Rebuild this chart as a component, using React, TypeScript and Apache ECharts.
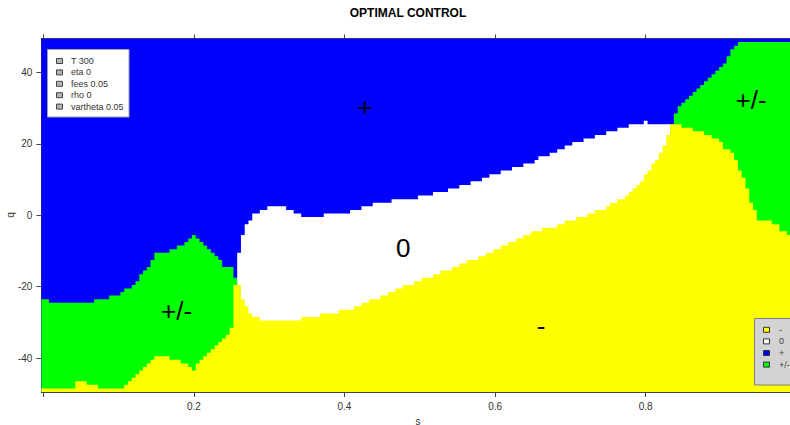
import React, { useEffect, useRef } from 'react';
import * as echarts from 'echarts';

// grid of the level plot: s in columns of 0.005, q in rows of 1
const STEP = 0.005;
const LAST_COL = 199;
const Q_MIN = -49.5;
const Q_MAX = 49.5;

const xTicks = [0, 0.2, 0.4, 0.6, 0.8];
const xTickLabels = [0.2, 0.4, 0.6, 0.8];
const yTicks = [-40, -20, 0, 20, 40];

// upper q edge of the "-" (yellow) region, as runs: [s where run starts, q edge]
const yellowTopRuns: [number, number][] = [
  [0, -48.5], [0.045, -46.5], [0.06, -47.5], [0.075, -48.5], [0.11, -47.5], [0.115, -46.5],
  [0.12, -45.5], [0.125, -44.5], [0.13, -43.5], [0.135, -42.5], [0.14, -41.5], [0.145, -40.5],
  [0.15, -39.5], [0.17, -40.5], [0.185, -41.5], [0.195, -42.5], [0.2, -43.5], [0.205, -41.5],
  [0.21, -40.5], [0.215, -39.5], [0.22, -38.5], [0.225, -37.5], [0.23, -36.5], [0.235, -35.5],
  [0.24, -34.5], [0.245, -33.5], [0.25, -31.5], [0.255, -19.5], [0.265, -23.5], [0.27, -25.5],
  [0.275, -27.5], [0.28, -28.5], [0.29, -29.5], [0.345, -28.5], [0.37, -27.5], [0.395, -26.5],
  [0.415, -25.5], [0.425, -24.5], [0.435, -23.5], [0.45, -22.5], [0.46, -21.5], [0.47, -20.5],
  [0.48, -19.5], [0.495, -18.5], [0.505, -17.5], [0.52, -16.5], [0.53, -15.5], [0.545, -14.5],
  [0.555, -13.5], [0.565, -12.5], [0.58, -11.5], [0.59, -10.5], [0.6, -9.5], [0.61, -8.5],
  [0.62, -7.5], [0.63, -6.5], [0.64, -5.5], [0.65, -4.5], [0.665, -3.5], [0.685, -2.5],
  [0.695, -1.5], [0.71, -0.5], [0.725, 0.5], [0.735, 1.5], [0.75, 2.5], [0.755, 3.5],
  [0.765, 4.5], [0.775, 5.5], [0.78, 6.5], [0.785, 7.5], [0.79, 8.5], [0.795, 9.5],
  [0.8, 11.5], [0.805, 12.5], [0.81, 14.5], [0.815, 15.5], [0.82, 17.5], [0.825, 19.5],
  [0.83, 22.5], [0.835, 25.5], [0.85, 24.5], [0.865, 23.5], [0.88, 22.5], [0.89, 21.5],
  [0.9, 20.5], [0.905, 18.5], [0.915, 17.5], [0.92, 15.5], [0.925, 12.5], [0.93, 10.5],
  [0.935, 7.5], [0.94, 3.5], [0.945, 1.5], [0.95, -1.5], [0.97, -2.5], [0.98, -4.5], [0.99, -5.5],
];

// upper q edge of the middle region ("0" or "+/-"), above it is "+" (blue)
const midTopRuns: [number, number][] = [
  [0, -23.5], [0.01, -24.5], [0.07, -23.5], [0.09, -22.5], [0.105, -21.5], [0.11, -20.5],
  [0.12, -19.5], [0.125, -18.5], [0.13, -16.5], [0.135, -15.5], [0.14, -14.5], [0.145, -12.5],
  [0.15, -10.5], [0.17, -9.5], [0.18, -8.5], [0.19, -7.5], [0.195, -6.5], [0.2, -5.5],
  [0.205, -6.5], [0.21, -7.5], [0.215, -8.5], [0.22, -9.5], [0.225, -10.5], [0.23, -11.5],
  [0.235, -12.5], [0.24, -14.5], [0.255, -17.5], [0.26, -10.5], [0.265, -5.5], [0.27, -2.5],
  [0.275, -1.5], [0.28, 0.5], [0.29, 1.5], [0.3, 2.5], [0.325, 1.5], [0.335, 0.5],
  [0.345, -0.5], [0.375, 0.5], [0.41, 1.5], [0.425, 2.5], [0.44, 3.5], [0.465, 4.5],
  [0.5, 5.5], [0.52, 6.5], [0.54, 7.5], [0.555, 8.5], [0.57, 9.5], [0.585, 10.5],
  [0.595, 11.5], [0.61, 12.5], [0.625, 13.5], [0.64, 14.5], [0.655, 15.5], [0.66, 16.5],
  [0.675, 17.5], [0.685, 18.5], [0.695, 19.5], [0.705, 20.5], [0.72, 21.5], [0.735, 22.5],
  [0.75, 23.5], [0.765, 24.5], [0.78, 25.5], [0.8, 26.5], [0.805, 25.5], [0.84, 28.5],
  [0.845, 30.5], [0.85, 31.5], [0.855, 32.5], [0.86, 33.5], [0.865, 34.5], [0.87, 35.5],
  [0.875, 36.5], [0.88, 37.5], [0.885, 38.5], [0.89, 39.5], [0.895, 40.5], [0.9, 41.5],
  [0.905, 42.5], [0.91, 44.5], [0.915, 46.5], [0.92, 47.5], [0.925, 48.5],
];

// which control value fills the middle region
const midKindRuns: [number, string][] = [[0, '+/-'], [0.26, '0'], [0.835, '+/-']];

const regionNames = ['-', '0', '+', '+/-'];
const regionColors: Record<string, string> = {
  '-': '#ffff00',
  '0': '#ffffff',
  '+': '#0000ff',
  '+/-': '#00ff00',
};
const paramLegend = ['T 300', 'eta 0', 'fees 0.05', 'rho 0', 'vartheta 0.05'];
const regionLabels = [
  { name: '+', value: [0.427, 30.2] },
  { name: '0', value: [0.478, -9.3] },
  { name: '-', value: [0.661, -31.0] },
  { name: '+/-', value: [0.177, -26.8] },
  { name: '+/-', value: [0.94, 32.4] },
];

const FONT = '"Liberation Sans", Arial, Helvetica, sans-serif';

function runValue<T>(runs: [number, T][], k: number): T {
  const s = k * STEP + 1e-9;
  let v = runs[0][1];
  for (const [st, val] of runs) {
    if (st <= s) v = val;
    else break;
  }
  return v;
}

const yellowTop = (k: number) => runValue(yellowTopRuns, k);
const midTop = (k: number) => runValue(midTopRuns, k);
const topEdge = (_k: number) => Q_MAX;

function kindSegments(kind: string): number[][] {
  const out: number[][] = [];
  midKindRuns.forEach(([st, kd], i) => {
    if (kd !== kind) return;
    const end = i + 1 < midKindRuns.length ? midKindRuns[i + 1][0] - STEP : LAST_COL * STEP;
    out.push([st, end]);
  });
  return out;
}

const makeRender = (upper: (k: number) => number, color: string) => (params: any, api: any) => {
  const k0 = Math.round(api.value(0) / STEP);
  const k1 = Math.round(api.value(1) / STEP);
  const pts: number[][] = [];
  pts.push(api.coord([k0 * STEP - STEP / 2, Q_MIN]));
  pts.push(api.coord([k1 * STEP + STEP / 2, Q_MIN]));
  for (let k = k1; k >= k0; k--) {
    const q = upper(k);
    pts.push(api.coord([k * STEP + STEP / 2, q]));
    pts.push(api.coord([k * STEP - STEP / 2, q]));
  }
  return { type: 'polygon', shape: { points: pts }, style: { fill: color } };
};

export default function App() {
  const ref = useRef<HTMLDivElement>(null);

  useEffect(() => {
    document.body.style.margin = '0';
    if (!ref.current) return;
    const chart = echarts.init(ref.current, null, { renderer: 'svg' });

    const full = [[0, LAST_COL * STEP]];
    const axisColor = '#444';

    const graphics: any[] = [];
    graphics.push({
      type: 'text',
      x: 408,
      y: 12.5,
      z: 100,
      style: {
        text: 'OPTIMAL CONTROL',
        fill: '#000',
        font: `bold 12px ${FONT}`,
        textAlign: 'center',
        textVerticalAlign: 'middle',
      },
    });
    graphics.push({
      type: 'text',
      x: 10,
      y: 215,
      rotation: Math.PI / 2,
      z: 100,
      style: {
        text: 'q',
        fill: '#333',
        font: `10px ${FONT}`,
        textAlign: 'center',
        textVerticalAlign: 'middle',
      },
    });
    graphics.push({
      type: 'rect',
      z: 100,
      shape: { x: 47.5, y: 49.5, width: 81.5, height: 67.5 },
      style: { fill: '#ffffff', stroke: '#a0a0a0', lineWidth: 1 },
    });
    paramLegend.forEach((t, i) => {
      const cy = 61 + i * 11.4;
      graphics.push({
        type: 'rect',
        z: 101,
        shape: { x: 56.5, y: cy - 2.5, width: 6, height: 5 },
        style: { fill: '#b4b4b4', stroke: '#444', lineWidth: 1 },
      });
      graphics.push({
        type: 'text',
        z: 101,
        x: 71,
        y: cy,
        style: { text: t, fill: '#333', font: `9px ${FONT}`, textVerticalAlign: 'middle' },
      });
    });
    graphics.push({
      type: 'rect',
      z: 100,
      shape: { x: 754.5, y: 318.5, width: 50, height: 66.5 },
      style: { fill: '#d3d3d3', stroke: '#808080', lineWidth: 1 },
    });
    regionNames.forEach((t, i) => {
      const cy = 329.8 + i * 11.6;
      graphics.push({
        type: 'rect',
        z: 101,
        shape: { x: 763.5, y: cy - 2.5, width: 6, height: 5 },
        style: { fill: regionColors[t], stroke: '#333', lineWidth: 1 },
      });
      graphics.push({
        type: 'text',
        z: 101,
        x: 779,
        y: cy,
        style: { text: t, fill: '#444', font: `9px ${FONT}`, textVerticalAlign: 'middle' },
      });
    });

    const option: any = {
      animation: false,
      textStyle: { fontFamily: FONT },
      grid: {
        left: 41.4,
        top: 38.5,
        width: 753,
        height: 353.5,
        containLabel: false,
        outerBoundsMode: 'none',
      },
      xAxis: [
        {
          type: 'value',
          min: -STEP / 2,
          max: LAST_COL * STEP + STEP / 2,
          position: 'bottom',
          name: 's',
          nameLocation: 'middle',
          nameGap: 24,
          nameTextStyle: { fontSize: 10, color: '#333', fontFamily: FONT },
          axisLine: { show: true, onZero: false, lineStyle: { color: axisColor, width: 1 } },
          axisTick: { show: true, length: 5, customValues: xTicks, lineStyle: { color: axisColor } },
          axisLabel: { show: true, customValues: xTickLabels, fontSize: 10, color: '#333', margin: 9, fontFamily: FONT },
          splitLine: { show: false },
        },
        {
          type: 'value',
          min: -STEP / 2,
          max: LAST_COL * STEP + STEP / 2,
          position: 'top',
          axisLine: { show: true, onZero: false, lineStyle: { color: axisColor, width: 1 } },
          axisTick: { show: true, length: 4, customValues: xTicks, lineStyle: { color: axisColor } },
          axisLabel: { show: false },
          splitLine: { show: false },
        },
      ],
      yAxis: [
        {
          type: 'value',
          min: Q_MIN,
          max: Q_MAX,
          position: 'left',
          axisLine: { show: true, onZero: false, lineStyle: { color: axisColor, width: 1 } },
          axisTick: { show: true, length: 5, customValues: yTicks, lineStyle: { color: axisColor } },
          axisLabel: { show: true, customValues: yTicks, fontSize: 10, color: '#333', margin: 9, fontFamily: FONT },
          splitLine: { show: false },
        },
        {
          type: 'value',
          min: Q_MIN,
          max: Q_MAX,
          position: 'right',
          axisLine: { show: true, onZero: false, lineStyle: { color: axisColor, width: 1 } },
          axisTick: { show: false },
          axisLabel: { show: false },
          splitLine: { show: false },
        },
      ],
      series: [
        {
          name: '+',
          type: 'custom',
          coordinateSystem: 'cartesian2d',
          clip: true,
          silent: true,
          encode: { x: [0, 1] },
          renderItem: makeRender(topEdge, regionColors['+']),
          data: full,
          z: 1,
        },
        {
          name: '+/-',
          type: 'custom',
          coordinateSystem: 'cartesian2d',
          clip: true,
          silent: true,
          encode: { x: [0, 1] },
          renderItem: makeRender(midTop, regionColors['+/-']),
          data: kindSegments('+/-'),
          z: 2,
        },
        {
          name: '0',
          type: 'custom',
          coordinateSystem: 'cartesian2d',
          clip: true,
          silent: true,
          encode: { x: [0, 1] },
          renderItem: makeRender(midTop, regionColors['0']),
          data: kindSegments('0'),
          z: 2,
        },
        {
          name: '-',
          type: 'custom',
          coordinateSystem: 'cartesian2d',
          clip: true,
          silent: true,
          encode: { x: [0, 1] },
          renderItem: makeRender(yellowTop, regionColors['-']),
          data: full,
          z: 3,
        },
        {
          name: 'labels',
          type: 'scatter',
          silent: true,
          symbolSize: 1,
          itemStyle: { color: 'rgba(0,0,0,0)' },
          z: 5,
          label: {
            show: true,
            position: 'inside',
            formatter: '{b}',
            fontSize: 26,
            color: '#000',
            opacity: 1,
            fontFamily: FONT,
          },
          data: regionLabels,
        },
      ],
      graphic: graphics,
    };

    chart.setOption(option);
    return () => chart.dispose();
  }, []);

  return <div ref={ref} style={{ width: 790, height: 425 }} />;
}
